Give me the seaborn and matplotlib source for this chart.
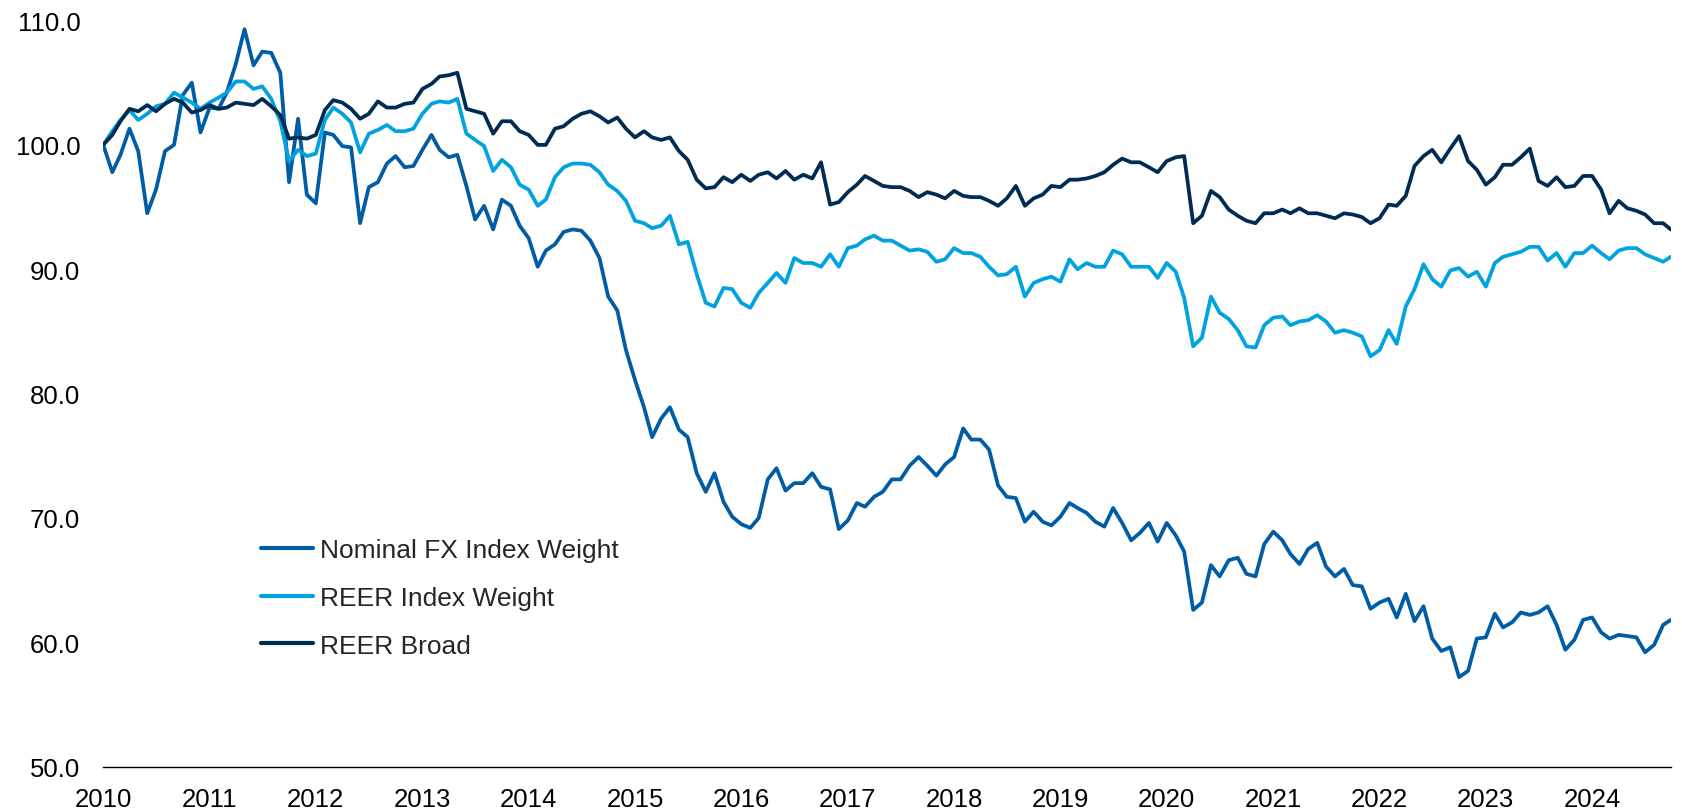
# fx_index_chart.py
# Nominal FX index vs REER indices, monthly, Jan 2010 = 100

import matplotlib
matplotlib.use("Agg")
import numpy as np
import pandas as pd
import matplotlib.pyplot as plt
import matplotlib.dates as mdates
from matplotlib.ticker import FormatStrFormatter
import seaborn as sns


# -------------------------------
# 1. Data
# -------------------------------

dates = pd.date_range("2010-01-01", "2024-09-01", freq="MS").append(
    pd.DatetimeIndex(["2024-09-27"])
)

nominal_fx = [
    100.0, 97.8, 99.2, 101.3, 99.5, 94.5, 96.4, 99.5, 100.0, 104.0, 105.0, 101.0,
    103.0, 102.9, 104.2, 106.5, 109.3, 106.4, 107.5, 107.4, 105.8, 97.0, 102.1, 96.0,
    95.3, 101.0, 100.8, 99.9, 99.8, 93.7, 96.6, 97.0, 98.5, 99.1, 98.2, 98.3,
    99.6, 100.8, 99.6, 99.0, 99.2, 96.7, 94.0, 95.1, 93.2, 95.6, 95.1, 93.5,
    92.5, 90.2, 91.5, 92.0, 93.0, 93.2, 93.1, 92.3, 90.9, 87.8, 86.7, 83.5,
    81.1, 78.9, 76.5, 78.0, 78.9, 77.1, 76.5, 73.6, 72.1, 73.6, 71.3, 70.1,
    69.5, 69.2, 70.0, 73.1, 74.0, 72.2, 72.8, 72.8, 73.6, 72.5, 72.3, 69.1,
    69.8, 71.2, 70.9, 71.7, 72.1, 73.1, 73.1, 74.2, 74.9, 74.2, 73.4, 74.3,
    74.9, 77.2, 76.3, 76.3, 75.5, 72.6, 71.7, 71.6, 69.7, 70.5, 69.7, 69.4,
    70.1, 71.2, 70.8, 70.4, 69.7, 69.3, 70.8, 69.6, 68.2, 68.8, 69.6, 68.1,
    69.6, 68.6, 67.3, 62.6, 63.2, 66.2, 65.3, 66.6, 66.8, 65.5, 65.3, 67.9,
    68.9, 68.2, 67.1, 66.3, 67.5, 68.0, 66.1, 65.3, 65.9, 64.6, 64.5, 62.7,
    63.2, 63.5, 62.0, 63.9, 61.7, 62.9, 60.3, 59.3, 59.6, 57.2, 57.7, 60.3,
    60.4, 62.3, 61.2, 61.6, 62.4, 62.2, 62.4, 62.9, 61.4, 59.4, 60.2, 61.8,
    62.0, 60.8, 60.3, 60.6, 60.5, 60.4, 59.2, 59.8, 61.4, 61.8,
]

reer_index = [
    100.0, 101.1, 102.0, 102.8, 102.0, 102.5, 103.1, 103.3, 104.2, 103.8, 103.4, 102.9,
    103.4, 103.8, 104.2, 105.1, 105.1, 104.5, 104.7, 103.7, 101.9, 98.7, 99.6, 99.1,
    99.3, 102.0, 103.0, 102.5, 101.8, 99.4, 100.9, 101.2, 101.6, 101.1, 101.1, 101.3,
    102.5, 103.3, 103.5, 103.4, 103.7, 100.9, 100.4, 99.9, 97.9, 98.8, 98.2, 96.8,
    96.4, 95.1, 95.6, 97.4, 98.2, 98.5, 98.5, 98.4, 97.8, 96.8, 96.3, 95.5,
    93.9, 93.7, 93.3, 93.5, 94.3, 92.0, 92.2, 89.6, 87.3, 87.0, 88.5, 88.4,
    87.3, 86.9, 88.1, 88.9, 89.7, 88.9, 90.9, 90.5, 90.5, 90.2, 91.2, 90.2,
    91.7, 91.9, 92.4, 92.7, 92.3, 92.3, 91.9, 91.5, 91.6, 91.4, 90.6, 90.8,
    91.7, 91.3, 91.3, 91.0, 90.2, 89.5, 89.6, 90.2, 87.8, 88.9, 89.2, 89.4,
    89.0, 90.8, 90.0, 90.5, 90.2, 90.2, 91.5, 91.2, 90.2, 90.2, 90.2, 89.3,
    90.5, 89.8, 87.7, 83.8, 84.5, 87.8, 86.5, 86.0, 85.1, 83.8, 83.7, 85.5,
    86.1, 86.2, 85.5, 85.8, 85.9, 86.3, 85.8, 84.9, 85.1, 84.9, 84.6, 83.0,
    83.5, 85.1, 84.0, 87.0, 88.4, 90.4, 89.2, 88.6, 89.9, 90.1, 89.4, 89.8,
    88.6, 90.5, 91.0, 91.2, 91.4, 91.8, 91.8, 90.7, 91.3, 90.2, 91.3, 91.3,
    91.9, 91.3, 90.8, 91.5, 91.7, 91.7, 91.2, 90.9, 90.6, 91.0,
]

reer_broad = [
    100.0, 100.8, 101.9, 102.9, 102.7, 103.2, 102.7, 103.3, 103.7, 103.4, 102.6, 102.8,
    103.2, 102.9, 103.0, 103.4, 103.3, 103.2, 103.7, 103.1, 102.4, 100.5, 100.6, 100.5,
    100.8, 102.8, 103.6, 103.4, 102.9, 102.1, 102.5, 103.5, 103.0, 103.0, 103.3, 103.4,
    104.5, 104.9, 105.5, 105.6, 105.8, 102.9, 102.7, 102.5, 100.9, 101.9, 101.9, 101.1,
    100.8, 100.0, 100.0, 101.3, 101.5, 102.1, 102.5, 102.7, 102.3, 101.8, 102.2, 101.3,
    100.6, 101.1, 100.6, 100.4, 100.6, 99.5, 98.8, 97.2, 96.5, 96.6, 97.4, 97.0,
    97.6, 97.1, 97.6, 97.8, 97.3, 97.9, 97.2, 97.6, 97.3, 98.6, 95.2, 95.4,
    96.2, 96.8, 97.5, 97.1, 96.7, 96.6, 96.6, 96.3, 95.8, 96.2, 96.0, 95.7,
    96.3, 95.9, 95.8, 95.8, 95.5, 95.1, 95.7, 96.7, 95.1, 95.7, 96.0, 96.7,
    96.6, 97.2, 97.2, 97.3, 97.5, 97.8, 98.4, 98.9, 98.6, 98.6, 98.2, 97.8,
    98.7, 99.0, 99.1, 93.7, 94.3, 96.3, 95.8, 94.8, 94.3, 93.9, 93.7, 94.5,
    94.5, 94.8, 94.5, 94.9, 94.5, 94.5, 94.3, 94.1, 94.5, 94.4, 94.2, 93.7,
    94.1, 95.2, 95.1, 95.9, 98.3, 99.1, 99.6, 98.6, 99.7, 100.7, 98.7, 98.0,
    96.8, 97.4, 98.4, 98.4, 99.0, 99.7, 97.1, 96.7, 97.4, 96.6, 96.7, 97.5,
    97.5, 96.4, 94.5, 95.5, 94.9, 94.7, 94.4, 93.7, 93.7, 93.2,
]

labels = ["Nominal FX Index Weight", "REER Index Weight", "REER Broad"]
colors = ["#005CA5", "#00A3E0", "#002B53"]

df = pd.DataFrame({
    "date": dates,
    labels[0]: nominal_fx,
    labels[1]: reer_index,
    labels[2]: reer_broad,
}).melt(id_vars="date", var_name="series", value_name="value")


# -------------------------------
# 2. Plot
# -------------------------------

sns.set_style("white")
plt.rcParams["font.family"] = ["Liberation Sans", "DejaVu Sans"]

fig = plt.figure(figsize=(16.82, 8.12), dpi=100)
ax = fig.add_axes([0.0614, 0.0546, 0.9319, 0.9189])

sns.lineplot(
    data=df, x="date", y="value", hue="series",
    hue_order=labels, palette=colors, linewidth=2.7, ax=ax,
)

ax.set_xlim(pd.Timestamp("2010-01-01"), pd.Timestamp("2024-09-27"))
ax.set_ylim(50, 110)
ax.set_yticks(np.arange(50, 111, 10))
ax.yaxis.set_major_formatter(FormatStrFormatter("%.1f"))
ax.xaxis.set_major_locator(mdates.YearLocator())
ax.xaxis.set_major_formatter(mdates.DateFormatter("%Y"))
ax.set_xlabel("")
ax.set_ylabel("")

sns.despine(ax=ax, left=True)
ax.spines["bottom"].set_color("black")
ax.spines["bottom"].set_linewidth(1.0)

ax.tick_params(axis="both", length=0, labelsize=18.5, colors="black")
ax.tick_params(axis="y", pad=16.5)
ax.tick_params(axis="x", pad=15)

handles, _ = ax.get_legend_handles_labels()
leg = ax.legend(
    handles, labels,
    loc="upper left", bbox_to_anchor=(0.155, 0.336), bbox_transform=fig.transFigure,
    frameon=False, fontsize=19, handlelength=2.0, handletextpad=0.25,
    labelspacing=0.9, borderpad=0, borderaxespad=0,
)
for line in leg.get_lines():
    line.set_linewidth(3.0)

fig.savefig("out.png", dpi=100)
print("saved out.png")
